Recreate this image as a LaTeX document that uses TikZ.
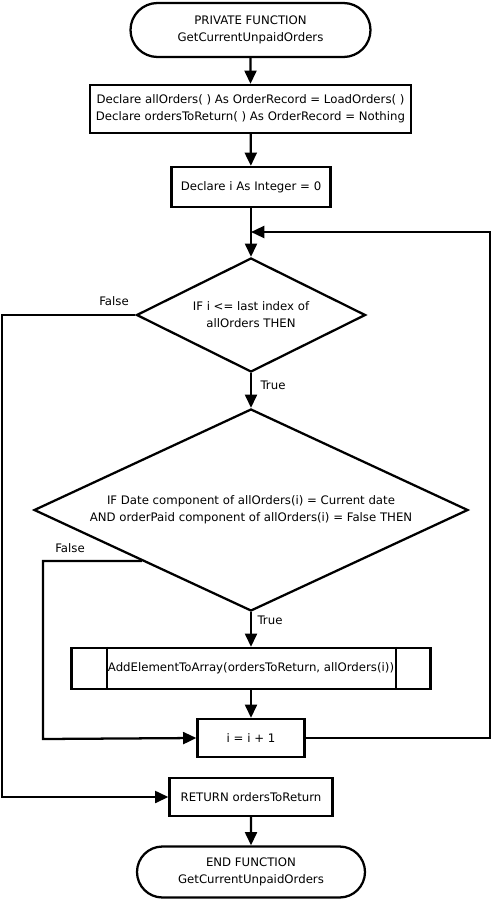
\documentclass[tikz,border=0pt]{standalone}
\usepackage{fontspec}
\setmainfont{DejaVu Sans}
\usetikzlibrary{shapes.geometric,shapes.misc,arrows.meta}
\begin{document}
\begin{tikzpicture}[x=0.75pt,y=-0.75pt,
  every node/.style={font=\fontsize{8.8pt}{12.8pt}\selectfont, align=center},
  line/.style={line width=1.7pt},
  arr/.style={line/.try, -{Triangle[length=10pt,width=9pt]}},
  term/.style={draw, line width=1.7pt, rounded rectangle, inner sep=0pt},
  proc/.style={draw, line width=1.7pt, rectangle, inner sep=0pt},
  cond/.style={draw, line width=1.7pt, diamond, inner sep=0pt},
  tag/.style={inner sep=0pt}]
\useasboundingbox (0,0) rectangle (493,900);

% nodes of the flow
\node[term, minimum width=240*0.75pt, minimum height=54*0.75pt] (start) at (250.5,30)
  {PRIVATE FUNCTION\\GetCurrentUnpaidOrders};
\node[proc, minimum width=321*0.75pt, minimum height=48*0.75pt] (decl1) at (250.5,109)
  {Declare allOrders( ) As OrderRecord = LoadOrders( )\\Declare ordersToReturn( ) As OrderRecord = Nothing};
\node[proc, minimum width=159*0.75pt, minimum height=40*0.75pt] (decl2) at (251,187)
  {Declare i As Integer = 0};
\node[cond, shape aspect=2, minimum width=229*0.75pt, minimum height=114*0.75pt] (dec1) at (251,315)
  {IF i <= last index of\\allOrders THEN};
\node[cond, shape aspect=2.15, minimum width=434*0.75pt, minimum height=202*0.75pt] (dec2) at (251,510)
  {IF Date component of allOrders(i) = Current date\\AND orderPaid component of allOrders(i) = False THEN};
\node[proc, minimum width=359*0.75pt, minimum height=41*0.75pt] (sub) at (251,668.5)
  {AddElementToArray(ordersToReturn, allOrders(i))};
\draw[line] ([xshift=36.7*0.75pt]sub.north west) -- ([xshift=36.7*0.75pt]sub.south west);
\draw[line] ([xshift=-36*0.75pt]sub.north east) -- ([xshift=-36*0.75pt]sub.south east);
\node[proc, minimum width=107*0.75pt, minimum height=38*0.75pt] (inc) at (251,738)
  {i = i + 1};
\node[proc, minimum width=163*0.75pt, minimum height=38*0.75pt] (ret) at (251,797)
  {RETURN ordersToReturn};
\node[term, minimum width=228*0.75pt, minimum height=51*0.75pt] (stop) at (251,872)
  {END FUNCTION\\GetCurrentUnpaidOrders};

% routing points
\coordinate (lft) at (2,797);
\coordinate (lft2) at (43,739);
\coordinate (rgt) at (490,232);
\coordinate (join) at (251,232);

% connectors
\draw[arr] (start) -- (decl1);
\draw[arr] (decl1) -- (decl2);
\draw[arr] (decl2) -- (dec1);
\draw[arr] (dec1.west) -| (lft) -- (ret.west);
\draw[arr] (dec1.south) -- (dec2.north);
\draw[arr] (dec2.south west) -| (lft2) -- (inc.west);
\draw[arr] (dec2.south) -- (sub.north);
\draw[arr] (sub) -- (inc);
\draw[arr] (inc.east) -| (rgt) -- (join);
\draw[arr] (ret) -- (stop);

% branch labels
\node[tag] (f1) at (114,301) {False};
\node[tag] (t1) at (273,385) {True};
\node[tag] (f2) at (70,548) {False};
\node[tag] (t2) at (270,620) {True};
\end{tikzpicture}
\end{document}
